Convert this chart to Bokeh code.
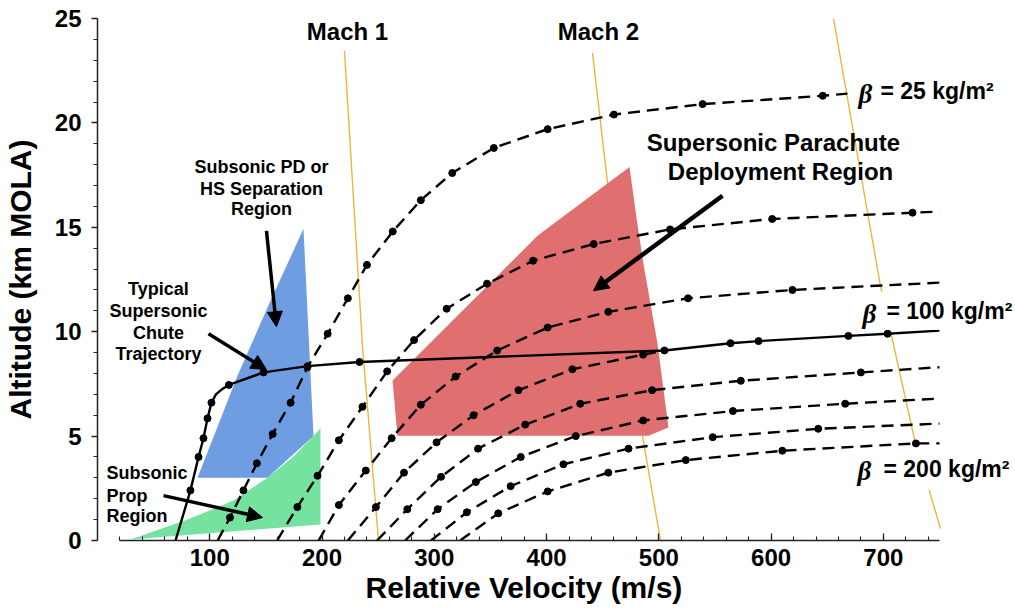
from bokeh.plotting import figure
from bokeh.models import Range1d, FixedTicker, Label, Arrow, NormalHead, Title
from bokeh.embed import file_html
from bokeh.resources import INLINE

# ---- ballistic-coefficient trajectories: relative velocity (m/s) vs altitude (km MOLA)
beta25_v = [107, 118, 130, 142, 156, 172, 187, 205, 223, 240, 263, 288, 316, 353, 401, 460, 539, 646, 668]
beta25_h = [0.0, 1.1, 2.4, 3.7, 5.1, 6.6, 8.3, 9.9, 11.6, 13.2, 14.8, 16.3, 17.6, 18.8, 19.7, 20.4, 20.9, 21.3, 21.4]

beta50_v = [160, 178, 196, 215, 236, 258, 282, 311, 347, 388, 442, 510, 601, 726, 750]
beta50_h = [0.0, 1.6, 3.1, 4.8, 6.4, 8.1, 9.6, 11.1, 12.3, 13.4, 14.2, 14.9, 15.4, 15.7, 15.75]

beta75_v = [197, 215, 239, 262, 288, 319, 356, 401, 455, 526, 619, 750]
beta75_h = [0.0, 1.7, 3.35, 4.9, 6.5, 7.85, 9.1, 10.2, 10.95, 11.6, 12.0, 12.35]

beta100_v = [223, 248, 273, 302, 335, 375, 423, 486, 505]
beta100_h = [0.0, 1.6, 3.25, 4.7, 6.0, 7.2, 8.2, 8.9, 9.1]

beta125_v = [249, 276, 306, 339, 381, 430, 494, 573, 680, 750]
beta125_h = [0.0, 1.5, 3.05, 4.4, 5.55, 6.55, 7.2, 7.65, 8.05, 8.3]

beta150_v = [274, 303, 337, 377, 426, 486, 566, 666, 750]
beta150_h = [0.0, 1.5, 2.8, 4.0, 5.0, 5.75, 6.2, 6.55, 6.8]

beta175_v = [297, 329, 368, 415, 473, 548, 642, 750]
beta175_h = [0.0, 1.35, 2.6, 3.65, 4.4, 4.95, 5.35, 5.6]

beta200_v = [323, 357, 401, 455, 524, 610, 729, 750]
beta200_h = [0.0, 1.3, 2.35, 3.25, 3.85, 4.3, 4.65, 4.65]

# typical supersonic chute trajectory (solid)
chute_v = [69.5, 82.8, 90.0, 94.4, 98.0, 101.5, 105.5, 111, 117, 147.9, 187.1, 233.4, 505.0, 563.8, 588.8, 668.9, 703.7, 750]
chute_h = [0.0, 2.4, 4.0, 4.9, 5.85, 6.6, 7.0, 7.25, 7.45, 8.05, 8.35, 8.55, 9.1, 9.45, 9.55, 9.8, 9.9, 10.05]
chute_dots = [1, 2, 3, 4, 5, 8, 9, 10, 11, 12, 13, 14, 15, 16]

# Mach number lines
mach1_v = [220.0, 236.0, 250.3]
mach1_h = [23.44, 9.33, 0.0]
mach2_v = [440.9, 454.3, 485.4, 501.5]
mach2_h = [23.35, 17.13, 5.02, 0.0]
mach3_v = [655.6, 697.4, 728.6, 750.9]
mach3_h = [24.98, 12.2, 4.64, 0.57]

# deployment regions
supersonic_v = [473.9, 391.9, 262.8, 267.2, 490.8, 508.6, 498.8, 486.3, 480.1]
supersonic_h = [17.89, 14.59, 7.66, 5.02, 5.02, 5.41, 9.43, 13.25, 15.45]
subsonic_pd_v = [183.5, 154.1, 124.7, 89.1, 151.4, 192.4]
subsonic_pd_h = [14.93, 11.48, 7.89, 3.01, 3.01, 5.0]
subsonic_prop_v = [29.4, 80.2, 121.1, 151.4, 174.6, 198.6, 198.6]
subsonic_prop_h = [0.05, 1.0, 1.91, 3.01, 4.02, 5.36, 0.77]

x_ticks = [100, 200, 300, 400, 500, 600, 700]
y_ticks = [0, 5, 10, 15, 20, 25]

FONT = "Liberation Sans"

# the plotting frame runs past 750 m/s so the beta labels have room on the right;
# the x axis itself stops at 750
p = figure(width=1015, height=611,
           x_range=Range1d(0, 817.7), y_range=Range1d(0, 25),
           output_backend="svg", toolbar_location=None,
           min_border_left=97, min_border_right=0,
           min_border_top=18, min_border_bottom=71)
p.outline_line_color = None
p.grid.visible = False
p.background_fill_color = "white"
p.border_fill_color = "white"

# axes
xa = p.xaxis[0]
xa.bounds = (20, 750)
xa.ticker = FixedTicker(ticks=x_ticks, minor_ticks=list(range(20, 751, 20)))
xa.major_tick_in = 7
xa.major_tick_out = 0
xa.minor_tick_in = 4
xa.minor_tick_out = 0
xa.major_label_standoff = 8

ya = p.yaxis[0]
ya.ticker = FixedTicker(ticks=y_ticks, minor_ticks=list(range(0, 26)))
ya.major_tick_in = 0
ya.major_tick_out = 6
ya.minor_tick_in = 0
ya.minor_tick_out = 4
ya.axis_label = "Altitude (km MOLA)"
ya.major_label_standoff = 10
ya.axis_label_standoff = 15

for ax in (xa, ya):
    ax.axis_line_color = "#222222"
    ax.axis_line_width = 1.5
    ax.major_tick_line_color = "#222222"
    ax.minor_tick_line_color = "#222222"
    ax.major_tick_line_width = 1.3
    ax.minor_tick_line_width = 1.1
    ax.major_label_text_font = FONT
    ax.major_label_text_font_size = "24px"
    ax.major_label_text_font_style = "bold"
    ax.major_label_text_color = "black"
    ax.axis_label_text_font = FONT
    ax.axis_label_text_font_size = "30px"
    ax.axis_label_text_font_style = "bold"
    ax.axis_label_text_color = "black"

# x axis title, centred under the 0-750 m/s axis rather than the wider frame
p.add_layout(Title(text="Relative Velocity (m/s)", align="left", offset=268,
                   text_font=FONT, text_font_size="30px", text_font_style="bold",
                   text_color="black", standoff=0), "below")

# Mach lines (beneath the regions)
for mv, mh in ((mach1_v, mach1_h), (mach2_v, mach2_h), (mach3_v, mach3_h)):
    p.line(mv, mh, line_color="#EFB440", line_width=1.4)

# regions
p.patch(supersonic_v, supersonic_h, fill_color="#E07070", line_color=None)
p.patch(subsonic_pd_v, subsonic_pd_h, fill_color="#6F9DE2", line_color=None)
p.patch(subsonic_prop_v, subsonic_prop_h, fill_color="#76E2A0", line_color=None)

# trajectories
curves = [(beta25_v, beta25_h), (beta50_v, beta50_h), (beta75_v, beta75_h),
          (beta100_v, beta100_h), (beta125_v, beta125_h), (beta150_v, beta150_h),
          (beta175_v, beta175_h), (beta200_v, beta200_h)]
for cv, ch in curves:
    p.line(cv, ch, line_color="black", line_width=2.4, line_dash="12 7")
    p.scatter(cv[1:-1], ch[1:-1], size=7, fill_color="black", line_color="black")

p.line(chute_v, chute_h, line_color="black", line_width=2.4)
p.scatter([chute_v[i] for i in chute_dots], [chute_h[i] for i in chute_dots],
          size=7, fill_color="black", line_color="black")


def label(x, y, text, size, align="center", style="bold", font=FONT, bg=None, pad=0):
    kw = {}
    if bg is not None:
        kw = dict(background_fill_color=bg, padding=pad)
    p.add_layout(Label(x=x, y=y, text=text, text_font=font, text_font_size=size,
                       text_font_style=style, text_color="black",
                       text_align=align, text_baseline="middle", **kw))


label(222.7, 24.4, "Mach 1", "24px")
label(446.2, 24.4, "Mach 2", "24px")

label(602.0, 19.04, "Supersonic Parachute", "24px")
label(608.4, 17.66, "Deployment Region", "24px")

label(146.1, 17.9, "Subsonic PD or", "18px")
label(146.1, 16.84, "HS Separation", "18px")
label(146.1, 15.89, "Region", "18px")

label(54.3, 12.06, "Typical", "18px")
label(54.3, 11.0, "Supersonic", "18px")
label(54.3, 9.95, "Chute", "18px")
label(54.3, 8.95, "Trajectory", "18px")

label(8.0, 3.21, "Subsonic", "18px", align="left")
label(8.0, 2.15, "Prop", "18px", align="left")
label(8.0, 1.15, "Region", "18px", align="left")

# ballistic coefficient labels
label(697.4, 21.53, "= 25 kg/m²", "23px", align="left")
label(677.8, 21.40, "β", "27px", align="left", style="bold italic", font="Liberation Serif")
label(697.4, 11.0, "= 100 kg/m²", "23px", align="left", bg="white", pad=6)
label(681.4, 10.87, "β", "27px", align="left", style="bold italic", font="Liberation Serif")
label(693.0, 3.44, "= 200 kg/m²", "23px", align="left", bg="white", pad=8)
label(677.0, 3.31, "β", "27px", align="left", style="bold italic", font="Liberation Serif")

# pointer arrows
for (x0, y0, x1, y1, w) in ((150.5, 14.83, 159.4, 10.24, 3.5),
                            (98.9, 9.90, 150.5, 8.18, 3.5),
                            (58.8, 2.15, 147.0, 1.10, 3.5),
                            (556.7, 16.51, 441.8, 11.96, 4.5)):
    p.add_layout(Arrow(end=NormalHead(size=15, fill_color="black", line_color="black"),
                       x_start=x0, y_start=y0, x_end=x1, y_end=y1,
                       line_color="black", line_width=w))

open("out.html", "w").write(file_html(p, INLINE))
